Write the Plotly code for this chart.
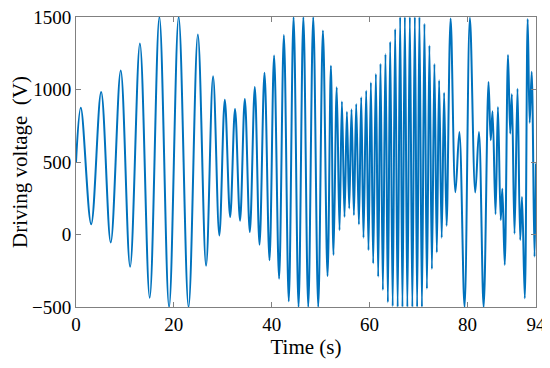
import plotly.graph_objects as go

# Extrema of the driving-voltage signal (time in s, voltage in V)
time_s = [
    0.0, 0.98, 3.10, 5.14, 7.10, 9.14, 11.06, 13.06, 15.06, 17.04,
    19.02, 20.98, 23.00, 24.90, 26.58, 28.01, 29.29, 30.41, 31.50, 32.50,
    33.52, 34.50, 35.52, 36.54, 37.50, 38.52, 39.54, 40.48, 41.50, 42.48,
    43.48, 44.46, 45.48, 46.46, 47.46, 48.48, 49.50, 50.46, 51.40, 52.09,
    52.62, 53.28, 53.85, 54.34, 54.87, 55.36, 55.83, 56.30, 56.79, 57.26,
    57.81, 58.28, 58.75, 59.30, 59.77, 60.26, 60.73, 61.28, 61.75, 62.22,
    62.71, 63.24, 63.73, 64.20, 64.71, 65.22, 65.73, 66.24, 66.71, 67.20,
    67.71, 68.22, 68.73, 69.24, 69.71, 70.18, 70.69, 71.20, 71.71, 72.22,
    72.73, 73.24, 73.73, 74.20, 74.73, 75.22, 75.73, 76.55, 77.53, 78.34,
    79.40, 80.49, 81.59, 82.34, 83.30, 84.30, 84.75, 85.12, 85.73, 86.22,
    86.79, 87.12, 87.61, 88.28, 88.73, 89.06, 89.61, 90.22, 90.77, 91.14,
    91.71, 92.30, 92.71, 93.12, 93.70, 94.0,
]
voltage_v = [
    500, 874, 71, 982, -55, 1131, -223, 1318, -436, 1500,
    -500, 1500, -500, 1379, -216, 1091, -7, 930, 121, 865,
    95, 934, 17, 1017, -70, 1116, -178, 1235, -305, 1375,
    -461, 1500, -500, 1500, -500, 1500, -500, 1407, -287, 1164,
    -142, 1016, 30, 917, 121, 847, 179, 863, 133, 900,
    69, 946, -23, 992, -108, 1049, -200, 1107, -291, 1177,
    -383, 1244, -468, 1330, -495, 1417, -500, 1500, -500, 1500,
    -500, 1500, -500, 1500, -500, 1500, -500, 1453, -375, 1304,
    -238, 1176, -124, 1063, -23, 977, 60, 1490, 291, 707,
    -500, 1495, 290, 707, -500, 1052, 650, 850, 140, 880,
    100, 316, -210, 1238, 696, 968, 6, 1005, -38, 259,
    -440, 1487, 770, 1122, -153, 490,
]

x_ticks = [0, 20, 40, 60, 80, 94]
y_ticks = [-500, 0, 500, 1000, 1500]

fig = go.Figure()
fig.add_trace(go.Scatter(
    x=time_s, y=voltage_v, mode="lines",
    line=dict(color="#0072BD", width=2, shape="spline", smoothing=1.0),
    showlegend=False, hoverinfo="skip",
))

axis_common = dict(
    showgrid=False, zeroline=False, showline=True, linecolor="#808080",
    linewidth=1, mirror="ticks", ticks="inside", ticklen=5, tickcolor="#808080",
    tickfont=dict(family="Liberation Serif", size=19, color="#000000"),
    automargin=False, ticklabeloverflow="allow",
)

# the page body adds an 8 px margin, so the figure is 8 px smaller and the margins shifted
fig.update_layout(
    width=542, height=360,
    margin=dict(l=68, r=14, t=9, b=61),
    paper_bgcolor="white", plot_bgcolor="white",
    font=dict(family="Liberation Serif", color="#000000"),
    xaxis=dict(range=[0, 94], tickvals=x_ticks, ticktext=[str(v) for v in x_ticks],
               title=dict(text="Time (s)", font=dict(size=21), standoff=1), **axis_common),
    yaxis=dict(range=[-500, 1500], tickvals=y_ticks,
               title=dict(text="Driving voltage\u00a0 (V)", font=dict(size=21), standoff=5),
               **axis_common),
)

fig.write_html("out.html")
